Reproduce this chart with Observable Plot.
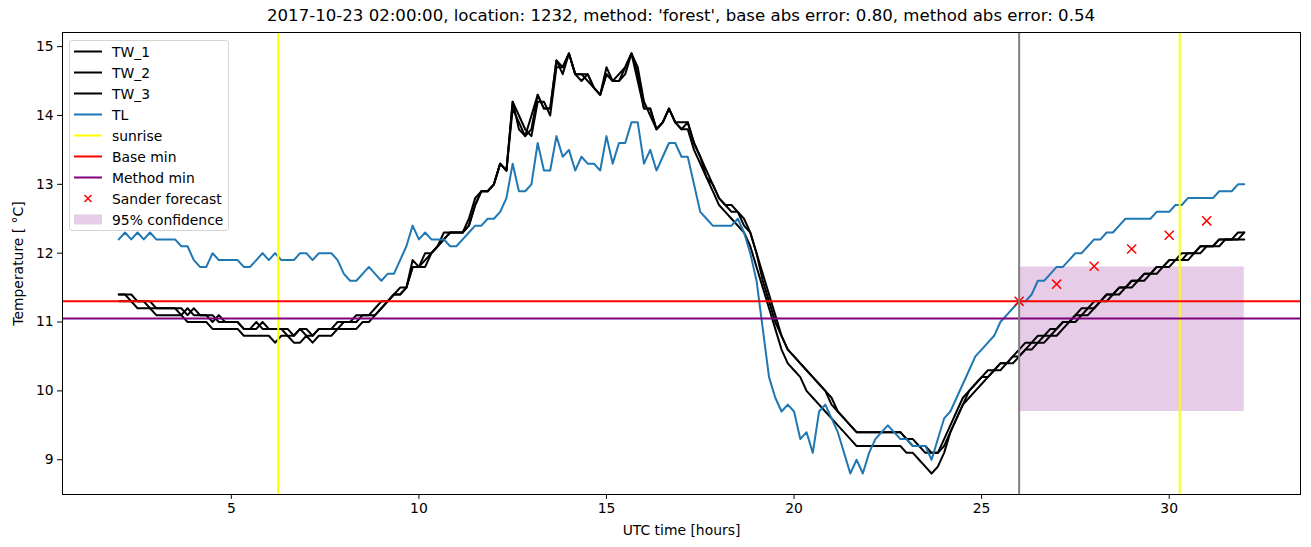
<!DOCTYPE html>
<html>
<head>
<meta charset="utf-8">
<script src="https://cdn.jsdelivr.net/npm/d3@7"></script>
<script src="https://cdn.jsdelivr.net/npm/@observablehq/plot@0.6"></script>
<style>
  body { margin: 0; background: #fff; }
  #wrap { position: relative; width: 1311px; height: 547px; font-family: "DejaVu Sans", sans-serif; }
  #title { position: absolute; left: 62px; width: 1238px; top: 6px; text-align: center; font-size: 16.6px; color: #000; line-height: 20px; }
  #legend { position: absolute; left: 69px; top: 40px; width: 160px; height: 191px; border: 1px solid #d4d4d4; border-radius: 3px; background: rgba(255,255,255,0.8); font-size: 13.9px; box-sizing: border-box; padding-top: 0px; }
  .row { height: 21px; display: flex; align-items: center; }
  .row svg { margin-left: 4px; margin-right: 10px; }
</style>
</head>
<body>
<div id="wrap">
  <div id="chart"></div>
  <div id="title"></div>
  <div id="legend"></div>
</div>
<script>
// ---- data (10-minute samples, hours since 2017-10-22 00:00 UTC, from 2.0 to 32.0) ----
const startHour = 2;
const stepHours = 1 / 6;

const TL = [
  12.2, 12.3, 12.2, 12.3, 12.2, 12.3,   // 2h
  12.2, 12.2, 12.2, 12.2, 12.1, 12.1,   // 3h
  11.9, 11.8, 11.8, 12.0, 11.9, 11.9,   // 4h
  11.9, 11.9, 11.8, 11.8, 11.9, 12.0,   // 5h
  11.9, 12.0, 11.9, 11.9, 11.9, 12.0,   // 6h
  12.0, 11.9, 12.0, 12.0, 12.0, 11.9,   // 7h
  11.7, 11.6, 11.6, 11.7, 11.8, 11.7,   // 8h
  11.6, 11.7, 11.7, 11.9, 12.1, 12.4,   // 9h
  12.2, 12.3, 12.2, 12.2, 12.2, 12.1,   // 10h
  12.1, 12.2, 12.3, 12.4, 12.4, 12.5,   // 11h
  12.5, 12.6, 12.8, 13.3, 12.9, 12.9,   // 12h
  13.0, 13.6, 13.2, 13.2, 13.7, 13.4,   // 13h
  13.5, 13.2, 13.4, 13.3, 13.3, 13.2,   // 14h
  13.7, 13.3, 13.6, 13.6, 13.9, 13.9,   // 15h
  13.3, 13.5, 13.2, 13.4, 13.6, 13.6,   // 16h
  13.4, 13.4, 13.0, 12.6, 12.5, 12.4,   // 17h
  12.4, 12.4, 12.4, 12.5, 12.3, 12.0,   // 18h
  11.6, 10.9, 10.2, 9.9, 9.7, 9.8,      // 19h
  9.7, 9.3, 9.4, 9.1, 9.7, 9.8,         // 20h
  9.6, 9.4, 9.1, 8.8, 9.0, 8.8,         // 21h
  9.1, 9.3, 9.4, 9.5, 9.4, 9.3,         // 22h
  9.3, 9.2, 9.2, 9.2, 9.0, 9.3,         // 23h
  9.6, 9.7, 9.9, 10.1, 10.3, 10.5,      // 24h
  10.6, 10.7, 10.8, 11.0, 11.1, 11.2,   // 25h
  11.3, 11.3, 11.4, 11.6, 11.6, 11.7,   // 26h
  11.8, 11.8, 11.9, 12.0, 12.0, 12.1,   // 27h
  12.2, 12.2, 12.3, 12.3, 12.4, 12.5,   // 28h
  12.5, 12.5, 12.5, 12.5, 12.6, 12.6,   // 29h
  12.6, 12.7, 12.7, 12.8, 12.8, 12.8,   // 30h
  12.8, 12.8, 12.9, 12.9, 12.9, 13.0,   // 31h
  13.0                                  // 32h
];

const TW_1 = [
  11.4, 11.4, 11.4, 11.3, 11.3, 11.3,   // 2h
  11.2, 11.2, 11.2, 11.2, 11.2, 11.1,   // 3h
  11.2, 11.1, 11.1, 11.0, 11.1, 11.0,   // 4h
  11.0, 11.0, 10.9, 10.9, 11.0, 10.9,   // 5h
  10.9, 10.9, 10.9, 10.9, 10.8, 10.9,   // 6h
  10.9, 10.8, 10.9, 10.9, 10.9, 11.0,   // 7h
  11.0, 11.0, 11.1, 11.1, 11.1, 11.2,   // 8h
  11.3, 11.3, 11.4, 11.5, 11.5, 11.9,   // 9h
  11.8, 11.8, 12.0, 12.1, 12.3, 12.3,   // 10h
  12.3, 12.3, 12.5, 12.8, 12.9, 12.9,   // 11h
  13.0, 13.3, 13.2, 14.2, 13.8, 13.7,   // 12h
  14.0, 14.3, 14.1, 14.1, 14.8, 14.7,   // 13h
  14.9, 14.6, 14.6, 14.6, 14.4, 14.3,   // 14h
  14.7, 14.5, 14.6, 14.7, 14.9, 14.6,   // 15h
  14.1, 14.1, 13.8, 13.9, 14.1, 13.9,   // 16h
  13.8, 13.9, 13.6, 13.4, 13.2, 13.0,   // 17h
  12.8, 12.7, 12.7, 12.6, 12.4, 12.3,   // 18h
  12.0, 11.6, 11.3, 11.0, 10.8, 10.6,   // 19h
  10.5, 10.4, 10.3, 10.2, 10.1, 10.0,   // 20h
  9.8, 9.7, 9.6, 9.5, 9.4, 9.4,         // 21h
  9.4, 9.4, 9.4, 9.4, 9.4, 9.4,         // 22h
  9.3, 9.2, 9.2, 9.1, 9.1, 9.1,         // 23h
  9.3, 9.5, 9.7, 9.9, 10.0, 10.1,       // 24h
  10.2, 10.3, 10.3, 10.4, 10.4, 10.5,   // 25h
  10.6, 10.7, 10.7, 10.8, 10.8, 10.9,   // 26h
  10.9, 11.0, 11.0, 11.1, 11.2, 11.2,   // 27h
  11.3, 11.3, 11.4, 11.4, 11.5, 11.5,   // 28h
  11.6, 11.6, 11.7, 11.7, 11.8, 11.8,   // 29h
  11.9, 11.9, 11.9, 12.0, 12.0, 12.1,   // 30h
  12.1, 12.1, 12.2, 12.2, 12.2, 12.3,   // 31h
  12.3                                  // 32h
];

const TW_2 = [
  11.4, 11.4, 11.3, 11.3, 11.3, 11.2,   // 2h
  11.2, 11.2, 11.2, 11.2, 11.1, 11.2,   // 3h
  11.1, 11.1, 11.1, 11.1, 11.0, 11.0,   // 4h
  11.0, 11.0, 10.9, 10.9, 10.9, 11.0,   // 5h
  10.9, 10.9, 10.9, 10.8, 10.8, 10.9,   // 6h
  10.8, 10.8, 10.9, 10.9, 10.9, 10.9,   // 7h
  11.0, 11.0, 11.0, 11.1, 11.1, 11.1,   // 8h
  11.2, 11.3, 11.4, 11.4, 11.5, 11.8,   // 9h
  11.8, 12.0, 12.0, 12.1, 12.2, 12.3,   // 10h
  12.3, 12.3, 12.4, 12.7, 12.9, 12.9,   // 11h
  13.0, 13.3, 13.2, 14.2, 14.0, 13.8,   // 12h
  13.7, 14.2, 14.2, 14.0, 14.7, 14.7,   // 13h
  14.9, 14.6, 14.6, 14.5, 14.4, 14.3,   // 14h
  14.6, 14.5, 14.5, 14.6, 14.9, 14.7,   // 15h
  14.2, 14.0, 13.8, 13.9, 14.1, 13.9,   // 16h
  13.9, 13.9, 13.6, 13.4, 13.1, 13.0,   // 17h
  12.8, 12.7, 12.6, 12.6, 12.5, 12.3,   // 18h
  12.0, 11.7, 11.4, 11.1, 10.8, 10.6,   // 19h
  10.5, 10.4, 10.3, 10.2, 10.1, 10.0,   // 20h
  9.9, 9.7, 9.6, 9.5, 9.4, 9.4,         // 21h
  9.4, 9.4, 9.4, 9.4, 9.4, 9.4,         // 22h
  9.3, 9.3, 9.2, 9.2, 9.1, 9.1,         // 23h
  9.2, 9.4, 9.6, 9.8, 9.9, 10.0,        // 24h
  10.1, 10.2, 10.3, 10.3, 10.4, 10.4,   // 25h
  10.5, 10.6, 10.6, 10.7, 10.7, 10.8,   // 26h
  10.8, 10.9, 11.0, 11.0, 11.1, 11.1,   // 27h
  11.2, 11.3, 11.3, 11.4, 11.4, 11.5,   // 28h
  11.5, 11.6, 11.6, 11.7, 11.7, 11.8,   // 29h
  11.8, 11.9, 11.9, 11.9, 12.0, 12.0,   // 30h
  12.1, 12.1, 12.1, 12.2, 12.2, 12.2,   // 31h
  12.3                                  // 32h
];

const TW_3 = [
  11.3, 11.3, 11.3, 11.2, 11.2, 11.2,   // 2h
  11.1, 11.1, 11.1, 11.1, 11.1, 11.0,   // 3h
  11.0, 11.0, 11.0, 10.9, 10.9, 10.9,   // 4h
  10.9, 10.9, 10.8, 10.8, 10.8, 10.8,   // 5h
  10.8, 10.7, 10.8, 10.8, 10.7, 10.7,   // 6h
  10.8, 10.7, 10.8, 10.8, 10.8, 10.9,   // 7h
  10.9, 10.9, 10.9, 11.0, 11.0, 11.1,   // 8h
  11.2, 11.3, 11.4, 11.4, 11.5, 11.8,   // 9h
  11.8, 11.9, 12.0, 12.1, 12.2, 12.3,   // 10h
  12.3, 12.3, 12.4, 12.7, 12.9, 12.9,   // 11h
  13.0, 13.3, 13.2, 14.1, 13.9, 13.7,   // 12h
  13.8, 14.3, 14.1, 14.1, 14.8, 14.6,   // 13h
  14.9, 14.6, 14.5, 14.6, 14.4, 14.3,   // 14h
  14.6, 14.5, 14.5, 14.7, 14.9, 14.5,   // 15h
  14.1, 14.1, 13.8, 13.9, 14.1, 13.9,   // 16h
  13.8, 13.8, 13.5, 13.3, 13.1, 12.9,   // 17h
  12.7, 12.6, 12.5, 12.4, 12.3, 12.1,   // 18h
  11.8, 11.5, 11.2, 10.9, 10.6, 10.4,   // 19h
  10.3, 10.2, 10.0, 9.9, 9.8, 9.7,      // 20h
  9.6, 9.5, 9.4, 9.3, 9.2, 9.2,         // 21h
  9.2, 9.2, 9.2, 9.2, 9.2, 9.2,         // 22h
  9.1, 9.1, 9.0, 8.9, 8.8, 8.9,         // 23h
  9.1, 9.4, 9.6, 9.8, 10.0, 10.1,       // 24h
  10.2, 10.2, 10.3, 10.4, 10.4, 10.5,   // 25h
  10.5, 10.6, 10.7, 10.7, 10.8, 10.8,   // 26h
  10.9, 11.0, 11.0, 11.1, 11.1, 11.2,   // 27h
  11.2, 11.3, 11.4, 11.4, 11.5, 11.5,   // 28h
  11.6, 11.6, 11.7, 11.7, 11.8, 11.8,   // 29h
  11.9, 11.9, 12.0, 12.0, 12.0, 12.1,   // 30h
  12.1, 12.1, 12.2, 12.2, 12.2, 12.2,   // 31h
  12.2                                  // 32h
];

const sunriseHours = [6.25, 30.28];
const forecastHour = 26;
const baseMin = 11.3;
const methodMin = 11.05;
const sanderHours = [26, 27, 28, 29, 30, 31];
const sanderValues = [11.3, 11.55, 11.81, 12.06, 12.26, 12.47];
const confidence = [{start: 26, end: 32, lo: 9.7, hi: 11.8}];

const xTicks = [5, 10, 15, 20, 25, 30];
const yTicks = [9, 10, 11, 12, 13, 14, 15];

const titleText = "2017-10-23 02:00:00, location: 1232, method: 'forest', base abs error: 0.80, method abs error: 0.54";
const xLabel = "UTC time [hours]";
const yLabel = "Temperature [ \u00B0C]";
const legendLabels = ["TW_1", "TW_2", "TW_3", "TL", "sunrise", "Base min", "Method min", "Sander forecast", "95% confidence"];

// ---- build tables ----
const toRows = (arr) => arr.map((v, i) => ({h: startHour + i * stepHours, v}));
const tw1 = toRows(TW_1), tw2 = toRows(TW_2), tw3 = toRows(TW_3), tl = toRows(TL);
const sander = sanderHours.map((h, i) => ({h, v: sanderValues[i]}));

const allVals = [...TL, ...TW_1, ...TW_2, ...TW_3];
const vMin = d3.min(allVals), vMax = d3.max(allVals);
const vPad = (vMax - vMin) * 0.05;
const hMin = startHour, hMax = startHour + (TL.length - 1) * stepHours;
const hPad = (hMax - hMin) * 0.05;

const lw = 2;
const chart = Plot.plot({
  width: 1311,
  height: 547,
  marginLeft: 62,
  marginRight: 11,
  marginTop: 32,
  marginBottom: 53,
  style: {fontFamily: "DejaVu Sans, sans-serif", fontSize: "13.9px", color: "#000", background: "#fff"},
  x: {domain: [hMin - hPad, hMax + hPad]},
  y: {domain: [vMin - vPad, vMax + vPad]},
  marks: [
    Plot.rect(confidence, {x1: "start", x2: "end", y1: "lo", y2: "hi", fill: "purple", fillOpacity: 0.2}),
    Plot.line(tw1, {x: "h", y: "v", stroke: "black", strokeWidth: lw}),
    Plot.line(tw2, {x: "h", y: "v", stroke: "black", strokeWidth: lw}),
    Plot.line(tw3, {x: "h", y: "v", stroke: "black", strokeWidth: lw}),
    Plot.line(tl, {x: "h", y: "v", stroke: "#1f77b4", strokeWidth: lw}),
    Plot.ruleX(sunriseHours, {stroke: "yellow", strokeWidth: lw}),
    Plot.ruleY([baseMin], {stroke: "red", strokeWidth: lw}),
    Plot.ruleY([methodMin], {stroke: "purple", strokeWidth: lw}),
    Plot.dot(sander, {x: "h", y: "v", symbol: "times", r: 4.2, stroke: "red", strokeWidth: 1.5}),
    Plot.ruleX([forecastHour], {stroke: "gray", strokeWidth: lw}),
    Plot.axisX({ticks: xTicks, tickFormat: d3.format("d"), tickSize: 4.9, tickPadding: 4, fontSize: 13.9, label: xLabel, labelAnchor: "center", labelArrow: "none", labelOffset: 40}),
    Plot.axisY({ticks: yTicks, tickFormat: d3.format("d"), tickSize: 4.9, tickPadding: 4, fontSize: 13.9, label: yLabel, labelAnchor: "center", labelArrow: "none", labelOffset: 49}),
    Plot.frame({stroke: "black", strokeWidth: 1})
  ]
});
document.getElementById("chart").appendChild(chart);
document.getElementById("title").textContent = titleText;

// ---- legend (HTML) ----
const swatches = [
  '<line x1="0" x2="28" y1="10.5" y2="10.5" stroke="black" stroke-width="2"/>',
  '<line x1="0" x2="28" y1="10.5" y2="10.5" stroke="black" stroke-width="2"/>',
  '<line x1="0" x2="28" y1="10.5" y2="10.5" stroke="black" stroke-width="2"/>',
  '<line x1="0" x2="28" y1="10.5" y2="10.5" stroke="#1f77b4" stroke-width="2"/>',
  '<line x1="0" x2="28" y1="10.5" y2="10.5" stroke="yellow" stroke-width="2"/>',
  '<line x1="0" x2="28" y1="10.5" y2="10.5" stroke="red" stroke-width="2"/>',
  '<line x1="0" x2="28" y1="10.5" y2="10.5" stroke="purple" stroke-width="2"/>',
  '<path d="M10.5,7 L17.5,14 M17.5,7 L10.5,14" stroke="red" stroke-width="1.5"/>',
  '<rect x="0" y="5.5" width="28" height="10" fill="purple" fill-opacity="0.2"/>'
];
const leg = document.getElementById("legend");
legendLabels.forEach((lab, i) => {
  const row = document.createElement("div");
  row.className = "row";
  row.innerHTML = `<svg width="28" height="21">${swatches[i]}</svg><span></span>`;
  row.querySelector("span").textContent = lab;
  leg.appendChild(row);
});
</script>
</body>
</html>
